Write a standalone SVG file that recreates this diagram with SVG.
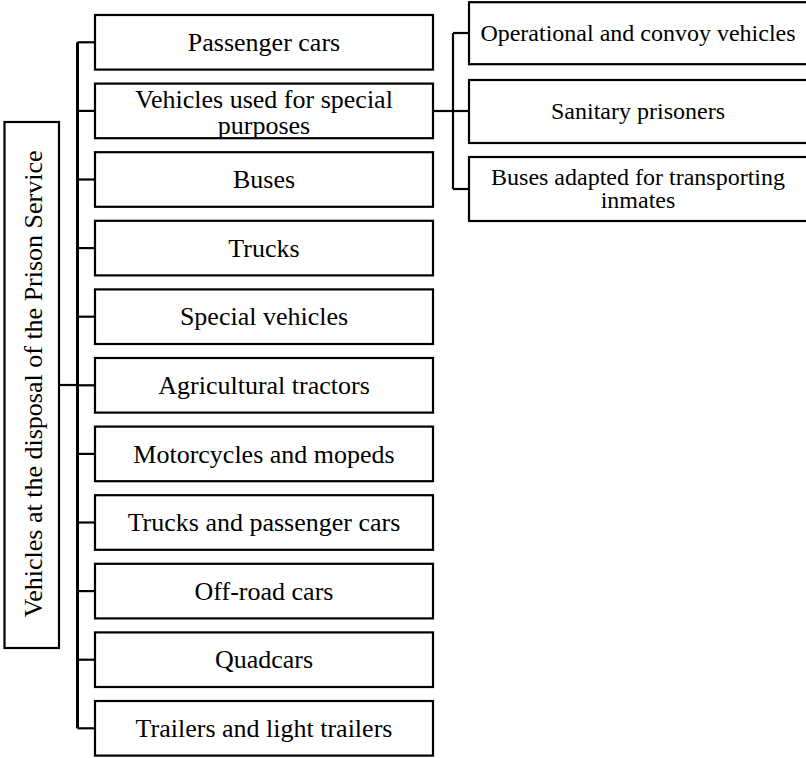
<svg xmlns="http://www.w3.org/2000/svg" width="806" height="758" viewBox="0 0 806 758">
<style>
.box{fill:#fff;stroke:#000;stroke-width:2.2}
text{font-family:'Liberation Serif','Times New Roman',Tinos,'DejaVu Serif',serif;fill:#000;text-anchor:middle}
.t{font-size:26px}
.s{font-size:24px}
.c{fill:none;stroke:#000;stroke-width:2.2}
.sp{fill:none;stroke:#000;stroke-width:3}
</style>
<rect width="806" height="758" fill="#fff"/>
<g id="connectors">
<line class="sp" x1="77.5" y1="42.3" x2="77.5" y2="728.3"/>
<line class="c" x1="59" y1="385" x2="77.5" y2="385"/>
<line class="c" x1="77.5" y1="42.3" x2="95" y2="42.3"/>
<line class="c" x1="77.5" y1="110.9" x2="95" y2="110.9"/>
<line class="c" x1="77.5" y1="179.5" x2="95" y2="179.5"/>
<line class="c" x1="77.5" y1="248.1" x2="95" y2="248.1"/>
<line class="c" x1="77.5" y1="316.7" x2="95" y2="316.7"/>
<line class="c" x1="77.5" y1="385.3" x2="95" y2="385.3"/>
<line class="c" x1="77.5" y1="453.9" x2="95" y2="453.9"/>
<line class="c" x1="77.5" y1="522.5" x2="95" y2="522.5"/>
<line class="c" x1="77.5" y1="591.1" x2="95" y2="591.1"/>
<line class="c" x1="77.5" y1="659.7" x2="95" y2="659.7"/>
<line class="c" x1="77.5" y1="728.3" x2="95" y2="728.3"/>
<line class="c" x1="433" y1="111" x2="453" y2="111"/>
<line class="c" x1="453" y1="33" x2="453" y2="189"/>
<line class="c" x1="453" y1="33" x2="469" y2="33"/>
<line class="c" x1="453" y1="111" x2="469" y2="111"/>
<line class="c" x1="453" y1="189" x2="469" y2="189"/>
</g>
<g id="root">
<rect class="box" x="4.5" y="122" width="54.5" height="526"/>
<text class="t" transform="translate(41.5,384) rotate(-90)" x="0" y="0">Vehicles at the disposal of the Prison Service</text>
</g>
<g id="n1"><rect class="box" x="95" y="15" width="338" height="54.6"/><text class="t" x="264" y="51">Passenger cars</text></g>
<g id="n2"><rect class="box" x="95" y="83.6" width="338" height="54.6"/><text class="t" x="264" y="108">Vehicles used for special</text><text class="t" x="264" y="134">purposes</text></g>
<g id="n3"><rect class="box" x="95" y="152.2" width="338" height="54.6"/><text class="t" x="264" y="188.2">Buses</text></g>
<g id="n4"><rect class="box" x="95" y="220.8" width="338" height="54.6"/><text class="t" x="264" y="256.8">Trucks</text></g>
<g id="n5"><rect class="box" x="95" y="289.4" width="338" height="54.6"/><text class="t" x="264" y="325.4">Special vehicles</text></g>
<g id="n6"><rect class="box" x="95" y="358" width="338" height="54.6"/><text class="t" x="264" y="394">Agricultural tractors</text></g>
<g id="n7"><rect class="box" x="95" y="426.6" width="338" height="54.6"/><text class="t" x="264" y="462.6">Motorcycles and mopeds</text></g>
<g id="n8"><rect class="box" x="95" y="495.2" width="338" height="54.6"/><text class="t" x="264" y="531.2">Trucks and passenger cars</text></g>
<g id="n9"><rect class="box" x="95" y="563.8" width="338" height="54.6"/><text class="t" x="264" y="599.8">Off-road cars</text></g>
<g id="n10"><rect class="box" x="95" y="632.4" width="338" height="54.6"/><text class="t" x="264" y="668.4">Quadcars</text></g>
<g id="n11"><rect class="box" x="95" y="701" width="338" height="54.6"/><text class="t" x="264" y="737">Trailers and light trailers</text></g>
<g id="r1"><rect class="box" x="469" y="2.2" width="340" height="62"/><text class="s" x="638" y="41">Operational and convoy vehicles</text></g>
<g id="r2"><rect class="box" x="469" y="80" width="340" height="63"/><text class="s" x="638" y="119">Sanitary prisoners</text></g>
<g id="r3"><rect class="box" x="469" y="157" width="340" height="64"/><text class="s" x="638" y="184.5">Buses adapted for transporting</text><text class="s" x="638" y="208">inmates</text></g>
</svg>
